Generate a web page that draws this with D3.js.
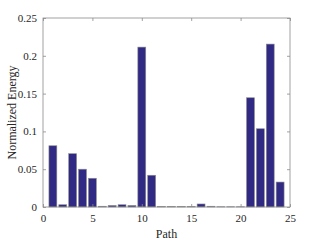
<!DOCTYPE html>
<html><head><meta charset="utf-8">
<script src="https://cdn.jsdelivr.net/npm/d3@7"></script>
<style>body{margin:0;background:#fff}text{font-family:"Liberation Serif","Times New Roman",serif;}</style>
</head><body><svg id="c" width="321" height="241"></svg>
<script>
const paths = [1,2,3,4,5,6,7,8,9,10,11,12,13,14,15,16,17,18,19,20,21,22,23,24];
const energy = [0.081,0.003,0.0705,0.050,0.038,0.001,0.002,0.003,0.002,0.2115,0.042,0.0005,0.0005,0.0005,0.0005,0.004,0.001,0.0003,0.0003,0.0003,0.1445,0.1035,0.2155,0.033];
const xTicks = [0,5,10,15,20,25];
const yTicks = [0,0.05,0.1,0.15,0.2,0.25];
const yTickLabels = ["0","0.05","0.1","0.15","0.2","0.25"];

const svg = d3.select("#c");
const L=43,R=290,T=18,B=207;
const x = d3.scaleLinear().domain([0,25]).range([L,R]);
const y = d3.scaleLinear().domain([0,0.25]).range([B,T]);
const bw = (x(1)-x(0))*0.8;
const axisColor="#8a8a8a";

svg.append("g").selectAll("rect").data(paths).join("rect")
  .attr("x",(d)=>x(d)-bw/2).attr("width",bw)
  .attr("y",(d,i)=>y(energy[i])).attr("height",(d,i)=>B-y(energy[i]))
  .attr("fill","#302a84").attr("stroke","#8c8c8c").attr("stroke-width",0.6);

// box
svg.append("rect").attr("x",L).attr("y",T).attr("width",R-L).attr("height",B-T)
  .attr("fill","none").attr("stroke",axisColor).attr("stroke-width",0.8);

const gx = svg.append("g").attr("transform",`translate(0,${B})`)
  .call(d3.axisBottom(x).tickValues(xTicks).tickSize(-3).tickPadding(7).tickFormat(d3.format("d")));
const gxt = svg.append("g").attr("transform",`translate(0,${T})`)
  .call(d3.axisTop(x).tickValues(xTicks).tickSize(-3).tickFormat(""));
const gy = svg.append("g").attr("transform",`translate(${L},0)`)
  .call(d3.axisLeft(y).tickValues(yTicks).tickSize(-3).tickPadding(6).tickFormat((d,i)=>yTickLabels[i]));
const gyr = svg.append("g").attr("transform",`translate(${R},0)`)
  .call(d3.axisRight(y).tickValues(yTicks).tickSize(-3).tickFormat(""));
[gx,gxt,gy,gyr].forEach(g=>{
  g.select(".domain").remove();
  g.selectAll(".tick line").attr("stroke",axisColor).attr("stroke-width",0.8);
  g.selectAll("text").attr("font-size",11).attr("fill","#262626").attr("font-family","Liberation Serif");
});

svg.append("text").attr("x",(L+R)/2).attr("y",238).attr("text-anchor","middle")
  .attr("font-size",12).attr("fill","#262626").text("Path");
svg.append("text").attr("transform",`translate(12,${(T+B)/2}) rotate(-90)`).attr("text-anchor","middle")
  .attr("dy","0.35em").attr("font-size",12).attr("fill","#262626").text("Normalized Energy");
</script></body></html>
